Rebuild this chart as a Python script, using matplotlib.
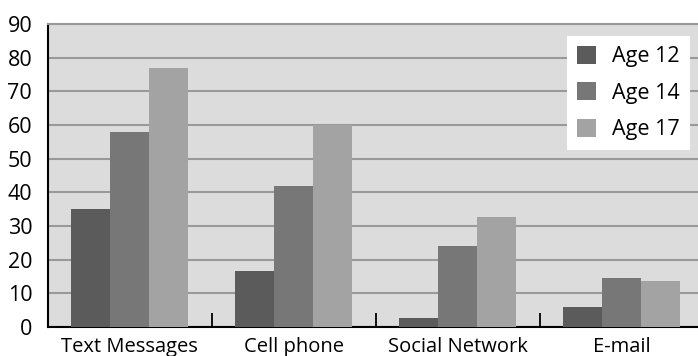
import matplotlib
matplotlib.use("Agg")
import matplotlib.pyplot as plt
import numpy as np

categories = ["Text Messages", "Cell phone", "Social Network", "E-mail"]
series_names = ["Age 12", "Age 14", "Age 17"]
age12 = [35, 16.6, 2.7, 5.9]
age14 = [58, 42, 24, 14.5]
age17 = [77, 60, 32.7, 13.6]
y_ticks = [0, 10, 20, 30, 40, 50, 60, 70, 80, 90]

colors = ["#5b5b5b", "#777777", "#a3a3a3"]
plt.rcParams["font.family"] = ["Open Sans", "DejaVu Sans"]

fig = plt.figure(figsize=(6.98, 3.56), dpi=100)
ax = fig.add_axes([47.5 / 698, 29 / 356, 656 / 698, 303 / 356])
ax.set_facecolor("#dcdcdc")

x = np.arange(len(categories))
w = 0.238
for i, (vals, name) in enumerate(zip([age12, age14, age17], series_names)):
    ax.bar(x + (i - 1) * w, vals, width=w, color=colors[i], label=name, zorder=3)

ax.set_xlim(-0.5, len(categories) - 0.5)
ax.set_ylim(0, 90)
ax.set_yticks(y_ticks)
ax.yaxis.grid(True, color="#999999", linewidth=1.5, zorder=1)
ax.set_axisbelow(True)

ax.set_xticks(x)
ax.set_xticklabels(categories)
ax.set_xticks(x[:-1] + 0.5, minor=True)
ax.tick_params(axis="x", which="major", length=0, labelsize=14.5, pad=7)
ax.tick_params(axis="x", which="minor", direction="in", length=10, width=1.3, color="black")
ax.tick_params(axis="y", length=0, labelsize=15.5, pad=11)

for s in ["left", "bottom"]:
    ax.spines[s].set_color("black")
    ax.spines[s].set_linewidth(1.5)
ax.spines["top"].set_color("#999999")
ax.spines["top"].set_linewidth(1.5)
ax.spines["right"].set_visible(False)

leg = ax.legend(loc="upper right", bbox_to_anchor=(0.979, 0.960), borderaxespad=0,
                fontsize=15.5, frameon=True, fancybox=False, framealpha=1,
                facecolor="white", edgecolor="white", handlelength=0.9,
                handleheight=0.9, labelspacing=0.7, handletextpad=0.75,
                borderpad=0.45)
leg.get_frame().set_linewidth(0)

fig.savefig("out.png", dpi=100)
